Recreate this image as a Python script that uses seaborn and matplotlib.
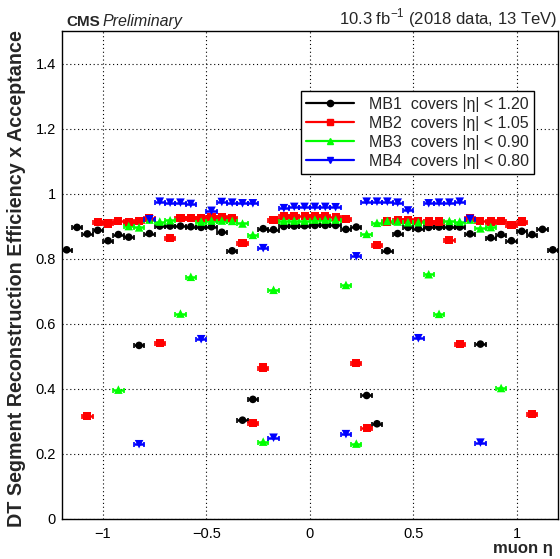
import numpy as np
import pandas as pd
import matplotlib
matplotlib.use("Agg")
import matplotlib.pyplot as plt
from matplotlib.lines import Line2D
from matplotlib.ticker import MultipleLocator, FixedLocator, FixedFormatter
import seaborn as sns

# ---------------- data ----------------
eta_mb1 = [-1.175, -1.125, -1.075, -1.025, -0.975, -0.925, -0.875, -0.825, -0.775, -0.725,
           -0.675, -0.625, -0.575, -0.525, -0.475, -0.425, -0.375, -0.325, -0.275, -0.225,
           -0.175, -0.125, -0.075, -0.025, 0.025, 0.075, 0.125, 0.175, 0.225, 0.275,
           0.325, 0.375, 0.425, 0.475, 0.525, 0.575, 0.625, 0.675, 0.725, 0.775,
           0.825, 0.875, 0.925, 0.975, 1.025, 1.075, 1.125, 1.175]
eff_mb1 = [0.827, 0.896, 0.876, 0.887, 0.855, 0.874, 0.866, 0.533, 0.877, 0.900,
           0.900, 0.900, 0.898, 0.896, 0.898, 0.881, 0.824, 0.303, 0.367, 0.892,
           0.889, 0.899, 0.900, 0.901, 0.902, 0.902, 0.902, 0.890, 0.897, 0.379,
           0.292, 0.824, 0.877, 0.896, 0.892, 0.896, 0.897, 0.897, 0.897, 0.876,
           0.537, 0.864, 0.874, 0.855, 0.884, 0.874, 0.890, 0.827]

eta_mb2 = [-1.075, -1.025, -0.975, -0.925, -0.875, -0.825, -0.775, -0.725, -0.675, -0.625,
           -0.575, -0.525, -0.475, -0.425, -0.375, -0.325, -0.275, -0.225, -0.175, -0.125,
           -0.075, -0.025, 0.025, 0.075, 0.125, 0.175, 0.225, 0.275, 0.325, 0.375,
           0.425, 0.475, 0.525, 0.575, 0.625, 0.675, 0.725, 0.775, 0.825, 0.875,
           0.925, 0.975, 1.025, 1.075]
eff_mb2 = [0.315, 0.912, 0.908, 0.916, 0.912, 0.916, 0.926, 0.541, 0.863, 0.926,
           0.926, 0.926, 0.928, 0.928, 0.924, 0.847, 0.293, 0.465, 0.919, 0.930,
           0.930, 0.930, 0.931, 0.930, 0.928, 0.922, 0.480, 0.278, 0.842, 0.914,
           0.920, 0.919, 0.916, 0.914, 0.914, 0.857, 0.537, 0.926, 0.916, 0.914,
           0.917, 0.904, 0.914, 0.321]

eta_mb3 = [-0.925, -0.875, -0.825, -0.775, -0.725, -0.675, -0.625, -0.575, -0.525, -0.475,
           -0.425, -0.375, -0.325, -0.275, -0.225, -0.175, -0.125, -0.075, -0.025, 0.025,
           0.075, 0.125, 0.175, 0.225, 0.275, 0.325, 0.375, 0.425, 0.475, 0.525,
           0.575, 0.625, 0.675, 0.725, 0.775, 0.825, 0.875, 0.925]
eff_mb3 = [0.397, 0.900, 0.896, 0.920, 0.914, 0.918, 0.631, 0.744, 0.914, 0.917,
           0.917, 0.916, 0.908, 0.873, 0.237, 0.704, 0.917, 0.917, 0.917, 0.920,
           0.920, 0.920, 0.719, 0.231, 0.876, 0.910, 0.916, 0.914, 0.912, 0.912,
           0.752, 0.630, 0.916, 0.914, 0.920, 0.893, 0.897, 0.402]

eta_mb4 = [-0.825, -0.775, -0.725, -0.675, -0.625, -0.575, -0.525, -0.475, -0.425, -0.375,
           -0.325, -0.275, -0.225, -0.175, -0.125, -0.075, -0.025, 0.025, 0.075, 0.125,
           0.175, 0.225, 0.275, 0.325, 0.375, 0.425, 0.475, 0.525, 0.575, 0.625,
           0.675, 0.725, 0.775, 0.825]
eff_mb4 = [0.229, 0.921, 0.975, 0.972, 0.972, 0.968, 0.552, 0.947, 0.974, 0.972,
           0.970, 0.970, 0.832, 0.249, 0.955, 0.959, 0.959, 0.959, 0.959, 0.958,
           0.260, 0.807, 0.975, 0.975, 0.975, 0.972, 0.948, 0.555, 0.970, 0.972,
           0.972, 0.975, 0.922, 0.234]

series_names = ["MB1", "MB2", "MB3", "MB4"]
legend_labels = ["MB1  covers |\u03b7| < 1.20", "MB2  covers |\u03b7| < 1.05",
                 "MB3  covers |\u03b7| < 0.90", "MB4  covers |\u03b7| < 0.80"]
bin_half_width = 0.025

x_ticks = [-1, -0.5, 0, 0.5, 1]
x_ticklabels = ["\u22121", "\u22120.5", "0", "0.5", "1"]
y_ticks = [0, 0.2, 0.4, 0.6, 0.8, 1.0, 1.2, 1.4]
y_ticklabels = ["0", "0.2", "0.4", "0.6", "0.8", "1", "1.2", "1.4"]

# ---------------- styling ----------------
colors = {"MB1": "#000000", "MB2": "#ff0000", "MB3": "#00ff00", "MB4": "#0000ff"}
markers = {"MB1": "o", "MB2": "s", "MB3": "^", "MB4": "v"}
msizes = {"MB1": 30, "MB2": 34, "MB3": 38, "MB4": 38}

sns.set_theme(style="white")
plt.rcParams["font.family"] = ["Liberation Sans", "DejaVu Sans"]

frames = []
for name, eta, eff in zip(series_names, [eta_mb1, eta_mb2, eta_mb3, eta_mb4],
                          [eff_mb1, eff_mb2, eff_mb3, eff_mb4]):
    frames.append(pd.DataFrame({"eta": eta, "eff": eff, "station": name}))
df = pd.concat(frames, ignore_index=True)

fig = plt.figure(figsize=(5.6, 5.59), dpi=100)
ax = fig.add_axes([61.5 / 560, 1 - 518.7 / 559, (558 - 61.5) / 560, (518.7 - 31) / 559])

# horizontal bin-width bars
for name in series_names:
    sub = df[df.station == name]
    ax.errorbar(sub.eta, sub.eff, xerr=bin_half_width, fmt="none",
                ecolor=colors[name], elinewidth=1.8, capsize=1.8, capthick=1.2, zorder=3)

sns.scatterplot(data=df, x="eta", y="eff", hue="station", style="station",
                palette=colors, markers=markers, size="station", sizes=msizes,
                edgecolor="none", linewidth=0, legend=False, ax=ax, zorder=4)

ax.set_xlim(-1.2, 1.2)
ax.set_ylim(0, 1.5)
ax.xaxis.set_major_locator(FixedLocator(x_ticks))
ax.xaxis.set_major_formatter(FixedFormatter(x_ticklabels))
ax.xaxis.set_minor_locator(MultipleLocator(0.1))
ax.yaxis.set_major_locator(FixedLocator(y_ticks))
ax.yaxis.set_major_formatter(FixedFormatter(y_ticklabels))
ax.yaxis.set_minor_locator(MultipleLocator(0.05))
ax.tick_params(which="both", direction="in", colors="black", labelsize=10.5,
               top=False, right=False)
ax.tick_params(which="major", length=11, width=1)
ax.tick_params(which="minor", length=5.5, width=1)
ax.tick_params(axis="x", which="major", pad=6)
ax.tick_params(axis="y", which="major", pad=4)

ax.grid(True, which="major", color="black", linestyle=(0, (1, 2.5)), linewidth=0.8)
ax.set_axisbelow(True)
for sp in ax.spines.values():
    sp.set_color("black")
    sp.set_linewidth(1.0)

ax.set_xlabel("")
ax.set_ylabel("")
fig.text(553 / 560, 1 - 548 / 559, "muon \u03b7", ha="right", va="center",
         fontsize=12, fontweight="bold")
fig.text(17 / 560, 1 - 30 / 559, "DT Segment Reconstruction Efficiency x Acceptance",
         rotation=90, ha="center", va="top", fontsize=14.2, fontweight="bold")

fig.text(66 / 560, 1 - 25.7 / 559, "CMS", ha="left", va="baseline", fontsize=11,
         fontweight="bold")
fig.text(102.5 / 560, 1 - 25.7 / 559, "Preliminary", ha="left", va="baseline",
         fontsize=11.5, style="italic")
fig.text(557 / 560, 1 - 18 / 559, r"10.3 fb$^{\mathregular{-1}}$ (2018 data, 13 TeV)",
         ha="right", va="center", fontsize=12)

handles = [Line2D([0], [0], color=colors[n], marker=markers[n], markersize=4.5,
                  linewidth=1.6) for n in series_names]
leg = ax.legend(handles, legend_labels, loc="upper left",
                bbox_to_anchor=(0.482, 0.877), frameon=True, fontsize=11.5,
                handlelength=3.0, handletextpad=0.9, borderpad=0.35,
                labelspacing=0.25, fancybox=False, shadow=False,
                borderaxespad=0)
leg.get_frame().set_edgecolor("black")
leg.get_frame().set_linewidth(1.0)
leg.get_frame().set_alpha(1.0)

fig.savefig("out.png", dpi=100)
